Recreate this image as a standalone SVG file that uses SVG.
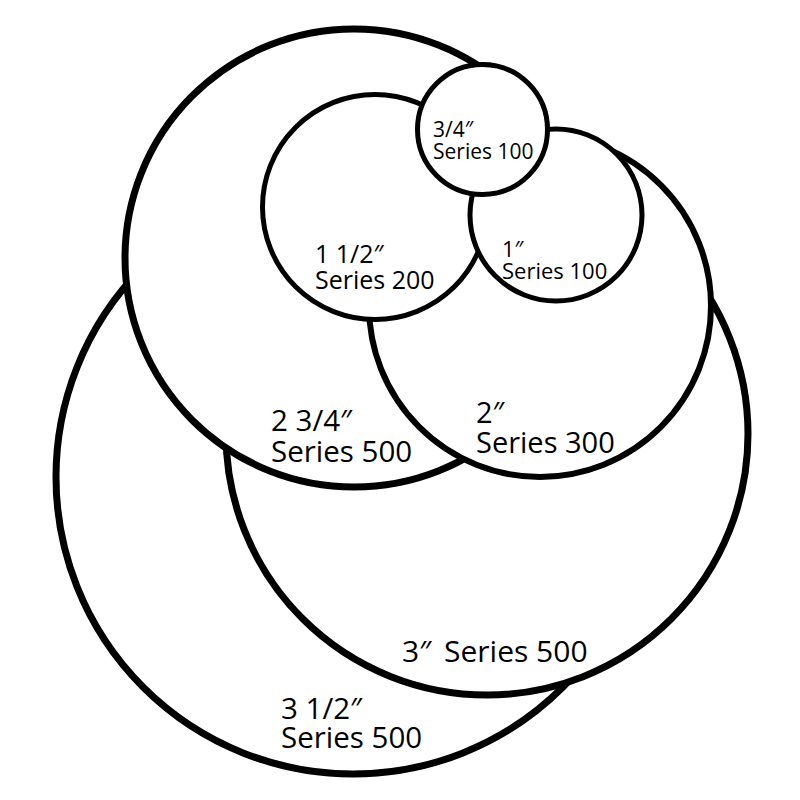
<svg xmlns="http://www.w3.org/2000/svg" width="800" height="800" viewBox="0 0 800 800">
<style>
.c{fill:#fff;stroke:#000}
text{font-family:"Open Sans","Noto Sans","DejaVu Sans",sans-serif;fill:#000}
</style>
<rect width="800" height="800" fill="#fff"/>
<g id="n-3-5-500"><circle class="c" cx="353" cy="477" r="297" stroke-width="7"/>
<text font-size="29.5" x="281" y="719">3 1/2″</text>
<text font-size="29.5" x="281" y="748">Series 500</text></g>
<g id="n-3-500"><circle class="c" cx="487" cy="434" r="261" stroke-width="7"/>
<text font-size="30" x="402" y="662">3″<tspan dx="5"> Series 500</tspan></text></g>
<g id="n-2-75-500"><circle class="c" cx="354" cy="258" r="229" stroke-width="7"/>
<text font-size="29.5" x="271" y="431">2 3/4″</text>
<text font-size="29.5" x="271" y="462">Series 500</text></g>
<g id="n-2-300"><circle class="c" cx="540" cy="306" r="171" stroke-width="6"/>
<text font-size="29" x="476" y="423">2″</text>
<text font-size="29" x="476" y="453">Series 300</text></g>
<g id="n-1-5-200"><circle class="c" cx="375" cy="207" r="112.5" stroke-width="5"/>
<text font-size="25" x="315" y="263">1 1/2″</text>
<text font-size="25" x="315" y="289">Series 200</text></g>
<g id="n-1-100"><circle class="c" cx="556" cy="215" r="86" stroke-width="5"/>
<text font-size="22" x="502" y="257">1″</text>
<text font-size="22" x="502" y="279">Series 100</text></g>
<g id="n-0-75-100"><circle class="c" cx="482.5" cy="129.5" r="65" stroke-width="5"/>
<text font-size="21" x="433" y="137">3/4″</text>
<text font-size="21" x="433" y="159">Series 100</text></g>
<g id="connectors"/>
</svg>
